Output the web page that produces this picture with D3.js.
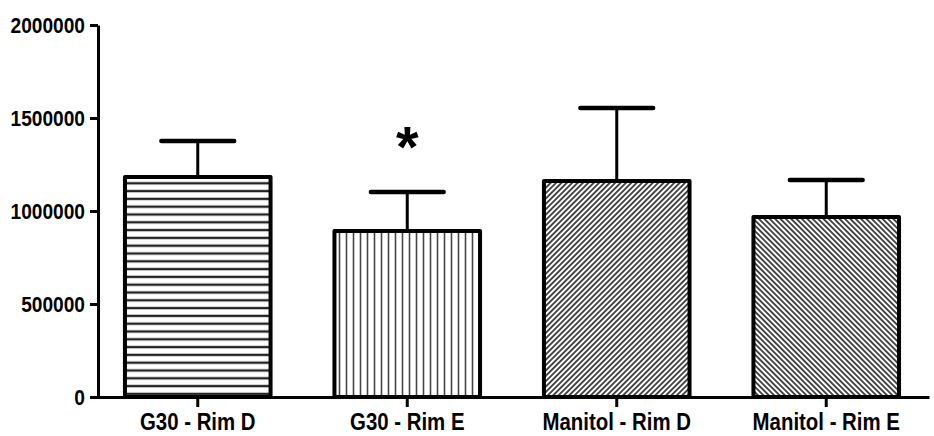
<!DOCTYPE html>
<html>
<head>
<meta charset="utf-8">
<script src="https://cdn.jsdelivr.net/npm/d3@7"></script>
<style>
  body { margin: 0; background: #fff; }
  svg { display: block; }
  text { font-family: Arial, "Liberation Sans", sans-serif; font-weight: bold; fill: #000; }
</style>
</head>
<body>
<script>
// values
var categories = ["G30 - Rim D", "G30 - Rim E", "Manitol - Rim D", "Manitol - Rim E"];
var means = [1183000, 892000, 1161000, 968000];
var sems = [193000, 210000, 393000, 199000];
var significant = [false, true, false, false];
var yTicks = [0, 500000, 1000000, 1500000, 2000000];
var fills = ["url(#hlines)", "url(#vlines)", "url(#diagUp)", "url(#diagDown)"];

var width = 934, height = 436;
var squeeze = 0.85; // the labels are set in a narrow bold face

var svg = d3.select("body").append("svg").attr("width", width).attr("height", height);

// hatch patterns
var defs = svg.append("defs");
defs.append("pattern").attr("id", "hlines").attr("patternUnits", "userSpaceOnUse")
    .attr("width", 8).attr("height", 7.8)
  .append("line").attr("x1", 0).attr("x2", 8).attr("y1", 3.9).attr("y2", 3.9)
    .attr("stroke", "#222").attr("stroke-width", 2.4);
defs.append("pattern").attr("id", "vlines").attr("patternUnits", "userSpaceOnUse")
    .attr("width", 7).attr("height", 8)
  .append("line").attr("x1", 3.5).attr("x2", 3.5).attr("y1", 0).attr("y2", 8)
    .attr("stroke", "#444").attr("stroke-width", 1.6);
defs.append("pattern").attr("id", "diagUp").attr("patternUnits", "userSpaceOnUse")
    .attr("width", 3.8).attr("height", 8).attr("patternTransform", "rotate(45)")
  .append("line").attr("x1", 1.9).attr("x2", 1.9).attr("y1", 0).attr("y2", 8)
    .attr("stroke", "#111").attr("stroke-width", 1.5);
defs.append("pattern").attr("id", "diagDown").attr("patternUnits", "userSpaceOnUse")
    .attr("width", 3.8).attr("height", 8).attr("patternTransform", "rotate(-45)")
  .append("line").attr("x1", 1.9).attr("x2", 1.9).attr("y1", 0).attr("y2", 8)
    .attr("stroke", "#111").attr("stroke-width", 1.5);

var x = d3.scaleBand().domain(categories).range([95, 929]).paddingInner(0.305).paddingOuter(0.143);
var y = d3.scaleLinear().domain([0, 2000000]).range([397, 25]);

var data = categories.map(function(c, i) {
    return {cat: c, mean: means[i], sem: sems[i], sig: significant[i], fill: fills[i]};
});

// error bars (drawn first so the bar outline sits over the stem)
var capW = x.bandwidth() / 2;
var err = svg.append("g").attr("stroke", "#000").attr("stroke-linecap", "round");
err.selectAll(".stem").data(data).enter().append("line")
    .attr("x1", function(d) { return x(d.cat) + x.bandwidth() / 2; })
    .attr("x2", function(d) { return x(d.cat) + x.bandwidth() / 2; })
    .attr("y1", function(d) { return y(d.mean); })
    .attr("y2", function(d) { return y(d.mean + d.sem); })
    .attr("stroke-width", 3);
err.selectAll(".cap").data(data).enter().append("line")
    .attr("x1", function(d) { return x(d.cat) + x.bandwidth() / 2 - capW / 2; })
    .attr("x2", function(d) { return x(d.cat) + x.bandwidth() / 2 + capW / 2; })
    .attr("y1", function(d) { return y(d.mean + d.sem); })
    .attr("y2", function(d) { return y(d.mean + d.sem); })
    .attr("stroke-width", 4.5);

// bars
svg.append("g").selectAll("rect").data(data).enter().append("rect")
    .attr("x", function(d) { return x(d.cat); })
    .attr("y", function(d) { return y(d.mean); })
    .attr("width", x.bandwidth())
    .attr("height", function(d) { return y(0) - y(d.mean); })
    .attr("fill", function(d) { return d.fill; })
    .attr("stroke", "#000").attr("stroke-width", 4)
    .attr("stroke-linejoin", "round");

// significance marks
svg.append("g").selectAll("text").data(data.filter(function(d) { return d.sig; })).enter().append("text")
    .attr("x", function(d) { return x(d.cat) + x.bandwidth() / 2; })
    .attr("y", function(d) { return y(d.mean + d.sem) - 25; })
    .attr("text-anchor", "middle")
    .style("font-size", "58px")
    .text("*");

// Add the Y Axis
var yAxis = svg.append("g").attr("transform", "translate(98,0)")
    .call(d3.axisLeft(y).tickValues(yTicks).tickFormat(d3.format("d")).tickSize(8).tickSizeOuter(0));
yAxis.attr("font-family", null).attr("font-size", null);
yAxis.select(".domain").attr("stroke-width", 3);
yAxis.selectAll(".tick line").attr("stroke-width", 3);
yAxis.selectAll(".tick text")
    .style("font-size", "22.5px")
    .attr("x", -13 / squeeze)
    .attr("transform", "scale(" + squeeze + ",1)");

// Add the X Axis
var xAxis = svg.append("g").attr("transform", "translate(0,397)")
    .call(d3.axisBottom(x).tickSize(10).tickPadding(6).tickSizeOuter(0));
xAxis.attr("font-family", null).attr("font-size", null);
xAxis.select(".domain").attr("stroke-width", 3);
xAxis.selectAll(".tick line").attr("stroke-width", 3);
xAxis.selectAll(".tick text")
    .style("font-size", "24px")
    .attr("transform", "scale(" + squeeze + ",1)");
</script>
</body>
</html>
